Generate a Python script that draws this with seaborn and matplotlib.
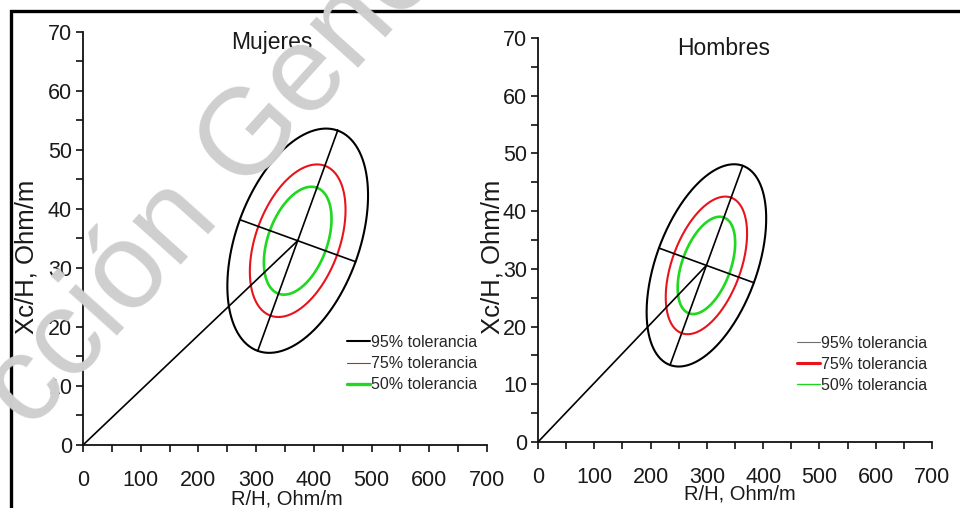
import numpy as np
import matplotlib
matplotlib.use("Agg")
import matplotlib.pyplot as plt
import seaborn as sns
from matplotlib.lines import Line2D
from matplotlib.patches import Rectangle

# Reference population statistics (R/H and Xc/H, Ohm/m)
groups = ["Mujeres", "Hombres"]
mean_r = [372.0, 299.2]
mean_xc = [34.6, 30.6]
sd_r = [49.8, 43.4]
sd_xc = [7.76, 7.16]
corr = [0.404, 0.463]

# Tolerance ellipses
levels = ["95% tolerancia", "75% tolerancia", "50% tolerancia"]
coverage = [0.95, 0.75, 0.50]
level_colors = ["black", "#e8141c", "#1fd81f"]
level_widths = [1.5, 1.5, 1.9]

# Legend line styles per panel
legend_colors = [["black", "#e8141c", "#1fd81f"], ["#6e6e6e", "#e8141c", "#1fd81f"]]
legend_widths = [[1.5, 0.8, 2.4], [0.8, 2.2, 1.0]]

x_ticks = [0, 100, 200, 300, 400, 500, 600, 700]
y_ticks = [0, 10, 20, 30, 40, 50, 60, 70]

W, H = 960, 508
sns.set_style("ticks")
plt.rcParams["font.family"] = ["Liberation Sans", "DejaVu Sans"]

fig = plt.figure(figsize=(W / 100, H / 100), dpi=100)

# axes boxes in pixels: left, right, top, bottom
boxes = [(83, 487, 31.7, 445), (538, 932, 38, 442)]
title_pos = [(0.468, 0.975), (0.472, 0.973)]
ylabel_pos = [(-0.111, 0.455), (-0.084, 0.458)]
xlabel_pos = [(0.505, -0.107), (0.513, -0.105)]
legend_pos = [(0.653, 0.266), (0.657, 0.263)]

for i, g in enumerate(groups):
    l, r, t, b = boxes[i]
    ax = fig.add_axes([l / W, 1 - b / H, (r - l) / W, (b - t) / H])
    ax.set_xlim(0, 700)
    ax.set_ylim(0, 70)
    sns.despine(ax=ax)
    for s in ("left", "bottom"):
        ax.spines[s].set_linewidth(1.3)
        ax.spines[s].set_color("#111111")
    ax.set_xticks(x_ticks)
    ax.set_yticks(y_ticks)
    ax.set_xticks(np.arange(0, 701, 50), minor=True)
    ax.set_yticks(np.arange(0, 71, 5), minor=True)
    ax.tick_params(axis="both", which="both", direction="out", length=5, width=1.2,
                   color="#111111", labelsize=15.5, labelcolor="#1a1a1a")
    ax.tick_params(axis="x", which="major", pad=13)
    ax.tick_params(axis="y", which="major", pad=3)

    # bivariate normal covariance, eigen-decomposed in display units
    cov = np.array([[sd_r[i] ** 2, corr[i] * sd_r[i] * sd_xc[i]],
                    [corr[i] * sd_r[i] * sd_xc[i], sd_xc[i] ** 2]])
    scale = np.abs(ax.transData.transform((1, 1)) - ax.transData.transform((0, 0)))
    S = np.diag(scale)
    vals, vecs = np.linalg.eigh(S @ cov @ S)
    major = np.sqrt(vals[1]) * vecs[:, 1] / scale
    minor = np.sqrt(vals[0]) * vecs[:, 0] / scale
    centre = np.array([mean_r[i], mean_xc[i]])

    tt = np.linspace(0, 2 * np.pi, 361)
    for lev, p, c, lw in zip(levels, coverage, level_colors, level_widths):
        k = np.sqrt(-2 * np.log(1 - p))
        pts = centre[:, None] + k * (np.outer(major, np.cos(tt)) + np.outer(minor, np.sin(tt)))
        sns.lineplot(x=pts[0], y=pts[1], sort=False, estimator=None, color=c, lw=lw, ax=ax)

    k95 = np.sqrt(-2 * np.log(1 - coverage[0]))
    for vec in (major, minor):
        ends = np.array([centre - k95 * vec, centre + k95 * vec])
        sns.lineplot(x=ends[:, 0], y=ends[:, 1], sort=False, estimator=None,
                     color="black", lw=1.2, ax=ax)
    sns.lineplot(x=[0, mean_r[i]], y=[0, mean_xc[i]], sort=False, estimator=None,
                 color="black", lw=1.2, ax=ax)

    ax.text(*title_pos[i], g, transform=ax.transAxes, ha="center", va="center",
            fontsize=16.5, color="#1a1a1a")
    ax.set_xlabel("R/H, Ohm/m", fontsize=14.5, color="#1a1a1a")
    ax.set_ylabel("Xc/H, Ohm/m", fontsize=18.5, color="#1a1a1a")
    ax.xaxis.set_label_coords(*xlabel_pos[i])
    ax.yaxis.set_label_coords(*ylabel_pos[i])

    handles = [Line2D([0], [0], color=c, lw=w) for c, w in zip(legend_colors[i], legend_widths[i])]
    ax.legend(handles, levels, loc="upper left", bbox_to_anchor=legend_pos[i],
              frameon=False, fontsize=11.5, handlelength=1.45, handletextpad=0.05,
              labelspacing=0.38, borderpad=0, borderaxespad=0)

# outer frame
fig.patches.append(Rectangle((11 / W, -0.2), 1.3, 1.2 - 11 / H, transform=fig.transFigure,
                             fill=False, edgecolor="black", lw=2.4, clip_on=False))

# watermark
fig.text(30 / W, 1 - 432 / H, "cción Gene", fontsize=88, color="#cfcfcf",
         rotation=48, rotation_mode="anchor", ha="left", va="baseline", zorder=20)

fig.savefig("out.png", dpi=100)
